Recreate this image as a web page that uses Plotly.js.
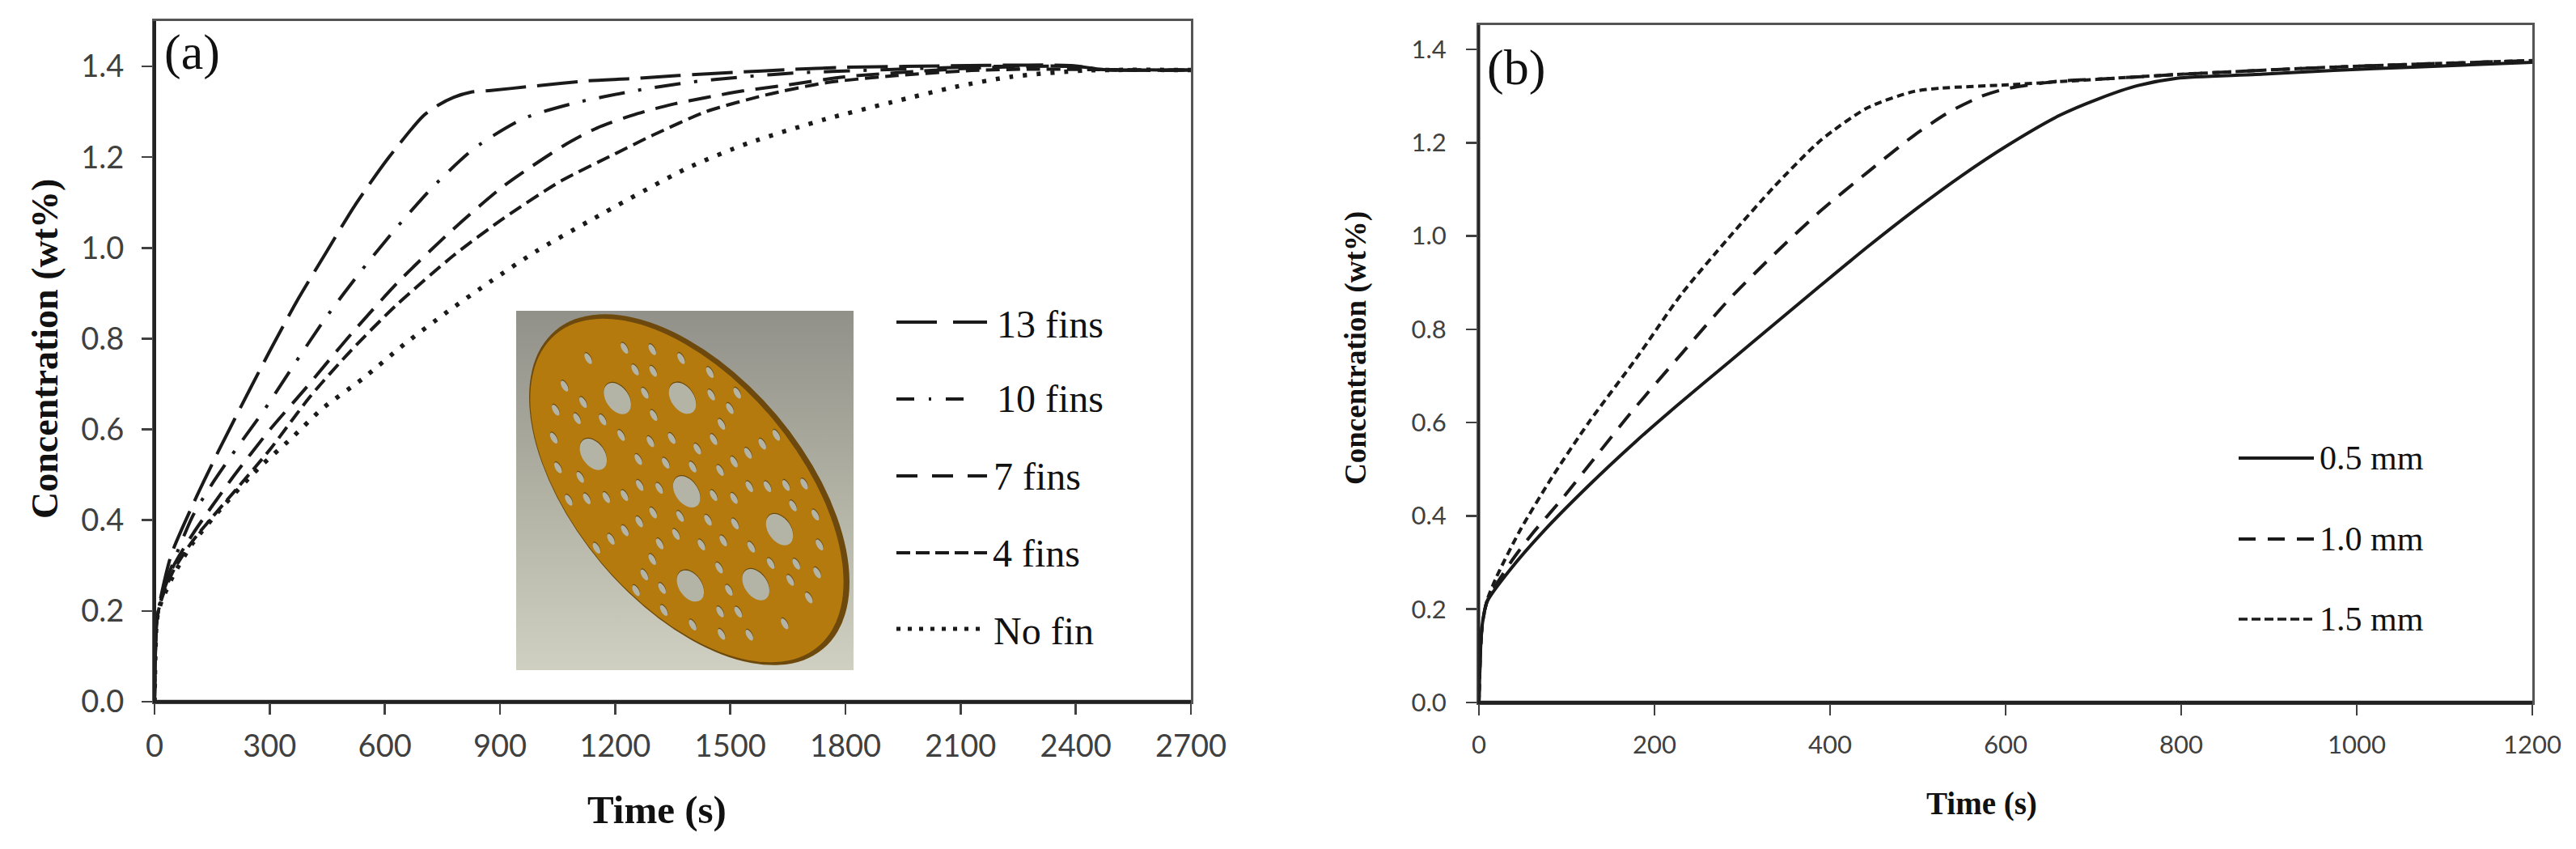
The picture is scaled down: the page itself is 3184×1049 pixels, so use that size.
<!DOCTYPE html>
<html><head><meta charset="utf-8">
<script src="https://cdn.plot.ly/plotly-3.0.1.min.js"></script>
<style>html,body{margin:0;padding:0;background:#fff}#chart{width:3184px;height:1049px}</style>
</head><body><div id="chart"></div>
<script>
// ---------- Panel (a) data ----------
const tickValsA = [0,300,600,900,1200,1500,1800,2100,2400,2700];
const fins13T = [0,2,5,10,20,44,103,167,253,301,371,447,523,609,700,738,780,823,877,980,1125,1240,1366,1513,1650,1798,1954,2386,2474,2700];
const fins13C = [0,0.10,0.17,0.20,0.245,0.325,0.44,0.553,0.696,0.774,0.883,0.99,1.095,1.198,1.291,1.314,1.332,1.343,1.347,1.356,1.368,1.373,1.38,1.387,1.393,1.398,1.40,1.402,1.393,1.392];
const fins10T = [0,2,5,10,20,50,100,150,211,286,367,447,538,630,727,834,961,1098,1243,1385,1533,1680,1838,2180,2400,2474,2700];
const fins10C = [0,0.10,0.17,0.20,0.24,0.31,0.41,0.48,0.555,0.643,0.747,0.847,0.949,1.044,1.136,1.22,1.285,1.32,1.345,1.364,1.377,1.386,1.391,1.40,1.40,1.393,1.392];
const fins7T = [0,2,5,10,20,50,100,200,301,393,512,635,770,909,1065,1152,1258,1347,1440,1533,1631,1798,1984,2180,2400,2474,2700];
const fins7C = [0,0.10,0.17,0.20,0.235,0.30,0.37,0.49,0.60,0.69,0.81,0.925,1.035,1.136,1.225,1.264,1.296,1.316,1.332,1.346,1.357,1.377,1.389,1.398,1.40,1.393,1.392];
const fins4T = [0,2,5,10,20,50,100,221,301,405,512,630,780,909,1060,1199,1297,1436,1592,1749,1935,2130,2278,2450,2700];
const fins4C = [0,0.10,0.17,0.20,0.23,0.29,0.355,0.476,0.556,0.672,0.774,0.874,0.984,1.065,1.148,1.207,1.248,1.30,1.337,1.364,1.38,1.391,1.394,1.393,1.392];
const noFinT = [0,2,5,10,20,50,100,183,274,356,436,544,651,764,877,995,1136,1386,1547,1749,1920,2087,2230,2426,2700];
const noFinC = [0,0.10,0.17,0.20,0.225,0.28,0.35,0.435,0.517,0.58,0.645,0.713,0.788,0.86,0.927,0.993,1.061,1.175,1.231,1.284,1.321,1.355,1.377,1.391,1.392];
const legendA = ["13 fins","10 fins","7 fins","4 fins","No fin"];
// ---------- Panel (b) data ----------
const tickValsB = [0,200,400,600,800,1000,1200];
const mm05T = [0,2,4,9.5,36,73,125,179,226,285,337,390,443,496,549,602,661,706,750,795,885,974,1064,1200];
const mm05C = [0,0.12,0.17,0.217,0.286,0.366,0.465,0.56,0.637,0.73,0.812,0.895,0.977,1.055,1.128,1.194,1.258,1.294,1.322,1.338,1.346,1.355,1.362,1.372];
const mm10T = [0,2,4,9.5,36,60,94,136,173,231,285,337,390,443,496,536,572,599,661,706,795,974,1200];
const mm10C = [0,0.12,0.17,0.218,0.30,0.36,0.435,0.534,0.621,0.748,0.864,0.962,1.055,1.137,1.216,1.266,1.299,1.315,1.332,1.336,1.346,1.362,1.376];
const mm15T = [0,2,4,9.5,20,46,83,125,179,231,285,337,390,443,496,527,603,706,795,974,1200];
const mm15C = [0,0.12,0.17,0.22,0.269,0.366,0.482,0.60,0.737,0.876,0.997,1.107,1.206,1.275,1.31,1.317,1.324,1.336,1.346,1.362,1.376];
const legendB = ["0.5 mm","1.0 mm","1.5 mm"];
// ---------- Inset picture: holes in the perforated fin ----------
const smallHoles = [[300,212],[360,217],[222,250],[422,250],[323,292],[362,297],[484,302],[171,352],[344,378],[487,385],[543,378],[211,413],[152,441],[527,435],[198,473],[253,477],[363,461],[509,494],[148,545],[293,535],[356,558],[402,546],[492,550],[627,534],[597,567],[566,601],[457,585],[330,624],[389,638],[447,652],[536,633],[506,665],[157,655],[205,690],[333,720],[375,731],[569,725],[608,725],[648,720],[687,715],[180,775],[219,770],[261,765],[300,758],[492,758],[536,768],[663,796],[711,830],[362,822],[420,835],[480,849],[538,863],[332,855],[301,888],[271,920],[240,953],[411,902],[376,937],[466,941],[513,926],[573,949],[720,941],[360,995],[615,1010],[670,1012],[504,1026],[715,1044],[343,1052],[657,1072],[325,1110],[381,1102],[525,1109],[697,1137],[385,1184],[506,1189],[545,1190],[447,1238],[645,1233],[509,1272],[569,1275]];
const bigHoles = [[285,398],[425,397],[233,605],[434,744],[634,884],[442,1093],[583,1088]];

const W = 3184, H = 1049;
const px = x => x / W, py = y => 1 - y / H;
const INK = '#1a1a1a', GREY = '#404040';
const TICK = 'Lato, "Liberation Sans", sans-serif', SERIF = '"Liberation Serif", serif';

function insetHref() {
  const ix = x => ((x - 67) / 1.742).toFixed(1), iy = y => ((y - 73) / 3).toFixed(1);
  const hole = (h, rx, ry, rot) => {
    const a = `cx="0" cy="0" rx="${rx}" ry="${ry}"`;
    return `<g transform="translate(${ix(h[0])} ${iy(h[1])}) rotate(${rot})"><ellipse ${a} fill="#6b4a08" transform="translate(-1 -0.8)"/><ellipse ${a} fill="#b4b4a6"/></g>`;
  };
  const svg = `<svg xmlns="http://www.w3.org/2000/svg" width="417" height="444" viewBox="0 0 417 444">
  <defs><linearGradient id="g" x1="0" y1="0" x2="0" y2="1"><stop offset="0" stop-color="#91918a"/><stop offset="0.5" stop-color="#b0b0a3"/><stop offset="1" stop-color="#cfcfc2"/></linearGradient>
  <filter id="b"><feGaussianBlur stdDeviation="0.7"/></filter></defs>
  <rect width="417" height="444" fill="url(#g)"/>
  <g filter="url(#b)">
  <ellipse cx="214" cy="221" rx="257" ry="142" transform="rotate(49.9 214 221)" fill="#6d4a08"/>
  <ellipse cx="211" cy="222" rx="252" ry="138" transform="rotate(49.9 211 222)" fill="#b47a0a"/>
  ${smallHoles.map(h => hole(h, 7.5, 3.4, 60)).join('')}
  ${bigHoles.map(h => hole(h, 21.5, 14, 55)).join('')}
  </g></svg>`;
  return 'data:image/svg+xml;base64,' + btoa(svg);
}

function curve(x, y, xa, ya, width, dash, name) {
  return {x, y, xaxis: xa, yaxis: ya, name, mode: 'lines', type: 'scatter', hoverinfo: 'skip',
          line: {color: INK, width, dash, shape: 'spline', smoothing: 0.7}};
}
const traces = [
  curve(fins13T, fins13C, 'x', 'y', 4, '50px,14px', legendA[0]),
  curve(fins10T, fins10C, 'x', 'y', 4, '32px,17px,4px,17px', legendA[1]),
  curve(fins7T, fins7C, 'x', 'y', 4, '28px,14px', legendA[2]),
  curve(fins4T, fins4C, 'x', 'y', 4, '17px,8px', legendA[3]),
  curve(noFinT, noFinC, 'x', 'y', 5.5, '5px,12px', legendA[4]),
  curve(mm05T, mm05C, 'x2', 'y2', 4, 'solid', legendB[0]),
  curve(mm10T, mm10C, 'x2', 'y2', 4, '22px,14px', legendB[1]),
  curve(mm15T, mm15C, 'x2', 'y2', 4, '9px,5.5px', legendB[2])
];

const axisBase = {showgrid: false, zeroline: false, showline: true, mirror: true, linecolor: '#555', linewidth: 3,
                  ticks: 'outside', tickcolor: GREY, tickwidth: 2.5, ticklen: 13};
const text = (t, x, y, size, opts) => Object.assign({text: t, xref: 'paper', yref: 'paper', x: px(x), y: py(y),
  showarrow: false, xanchor: 'center', yanchor: 'middle', font: {family: SERIF, size, color: '#111'}}, opts || {});
const key = (x0, x1, y, width, dash) => ({type: 'line', xref: 'paper', yref: 'paper', x0: px(x0), x1: px(x1), y0: py(y), y1: py(y),
  line: {color: INK, width, dash}});
const edge = (x0, y0, x1, y1, width) => ({type: 'line', xref: 'paper', yref: 'paper', x0: px(x0), x1: px(x1), y0: py(y0), y1: py(y1),
  line: {color: '#222', width}});

const yA = [0,0.2,0.4,0.6,0.8,1.0,1.2,1.4];
const legendRowsA = [400,493,588,683,779], legendRowsB = [566,666,765];
const legendLeftA = [1234,1234,1230,1229,1230];

const layout = {
  width: W, height: H, margin: {l:0,r:0,t:0,b:0}, paper_bgcolor: '#fff', plot_bgcolor: '#fff', showlegend: false,
  xaxis: Object.assign({}, axisBase, {domain: [px(191), px(1472)], range: [0,2700], tickvals: tickValsA, anchor: 'y',
    ticktext: tickValsA.map(String), tickfont: {family: TICK, size: 38, color: GREY}, ticklabelstandoff: 6}),
  yaxis: Object.assign({}, axisBase, {domain: [py(867), py(26)], range: [0,1.5], tickvals: yA, anchor: 'x',
    ticktext: yA.map(v => v.toFixed(1)), tickfont: {family: TICK, size: 38, color: GREY}, ticklabelstandoff: 14}),
  xaxis2: Object.assign({}, axisBase, {domain: [px(1828), px(3130)], range: [0,1200], tickvals: tickValsB, anchor: 'y2',
    ticktext: tickValsB.map(String), tickfont: {family: TICK, size: 31, color: GREY}, ticklabelstandoff: 10}),
  yaxis2: Object.assign({}, axisBase, {domain: [py(868), py(31)], range: [0,1.452], tickvals: yA, anchor: 'x2',
    ticktext: yA.map(v => v.toFixed(1)), tickfont: {family: TICK, size: 31, color: GREY}, ticklabelstandoff: 18}),
  images: [{source: insetHref(), xref: 'paper', yref: 'paper', x: px(638), y: py(384), sizex: 417/W, sizey: 444/H,
            xanchor: 'left', yanchor: 'top', sizing: 'stretch', layer: 'above'}],
  shapes: [
    edge(191,26,191,867,4), edge(189,867,1472,867,4.5),
    edge(1828,31,1828,868,3), edge(1826,868,3130,868,4.5),
    key(1108,1220,398,4,'50px,20px'), key(1108,1203,493,4,'22px,18px,3px,18px'),
    key(1108,1220,588,4,'26px,18px'), key(1108,1220,683,4,'17px,7px'), key(1108,1214,777,5,'5px,9px'),
    key(2767,2860,566,4,'solid'), key(2767,2860,666,4,'21px,15px'), key(2767,2860,765,3.5,'11px,5px')
  ],
  annotations: [
    text('(a)', 237, 65, 62), text('(b)', 1874, 83, 62),
    text('<b>Time (s)</b>', 812, 1000, 49), text('<b>Time (s)</b>', 2449, 993, 39),
    text('<b>Concentration (wt%)</b>', 55, 431, 46, {textangle: -90}),
    text('<b>Concentration (wt%)</b>', 1676, 430, 37, {textangle: -90}),
    ...legendA.map((t,i) => text(t, legendLeftA[i], legendRowsA[i], 48, {xanchor: 'left', xshift: -4})),
    ...legendB.map((t,i) => text(t, 2869, legendRowsB[i], 42, {xanchor: 'left', xshift: -4}))
  ]
};
Plotly.newPlot('chart', traces, layout, {displayModeBar: false, staticPlot: true});
</script></body></html>
